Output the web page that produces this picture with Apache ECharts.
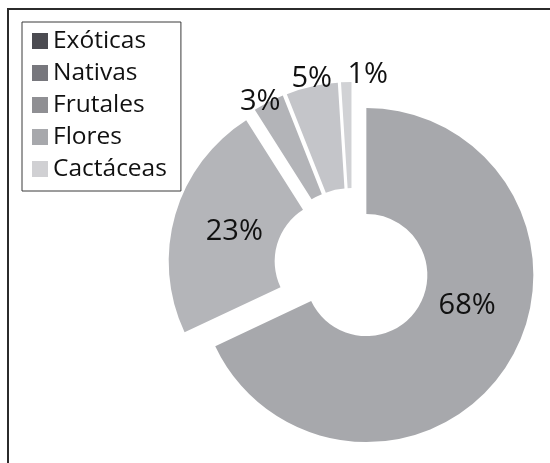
<!DOCTYPE html>
<html>
<head>
<meta charset="utf-8">
<script src="https://cdn.jsdelivr.net/npm/echarts@6/dist/echarts.min.js"></script>
<style>
html, body { margin: 0; padding: 0; background: #fff; }
#chart { width: 550px; height: 463px; }
</style>
</head>
<body>
<div id="chart"></div>
<script>
// Plant types and their share of the collection (%)
const categories = ['Exóticas', 'Nativas', 'Frutales', 'Flores', 'Cactáceas'];
const shares = [68, 23, 3, 5, 1];

// Fill of each ring slice, and the swatch shown in the legend
const sliceColors = ['#a7a8ac', '#b4b5b9', '#b3b4b8', '#c4c5c9', '#d1d2d5'];
const legendColors = ['#4b4b51', '#77777d', '#8f8f93', '#a7a8ac', '#d0d0d3'];

// Per-label shift (px) away from the slice's middle radius
const labelNudge = [[2, -32], [11, 3], [-31, -45], [-11, -56], [20, -57]];

const FONT = '"Open Sans", "Noto Sans", sans-serif';

const chart = echarts.init(document.getElementById('chart'), null, { renderer: 'canvas' });

chart.setOption({
  animation: false,
  backgroundColor: '#fff',
  graphic: [{
    type: 'rect',
    shape: { x: 8, y: 9, width: 600, height: 600 },
    style: { fill: 'none', stroke: '#2b2b2b', lineWidth: 2 },
    silent: true
  }],
  legend: {
    orient: 'vertical',
    left: 22,
    top: 22,
    icon: 'rect',
    itemWidth: 16,
    itemHeight: 16,
    itemGap: 7,
    padding: [6.5, 14, 9.5, 10],
    borderColor: '#3a3a3a',
    borderWidth: 1,
    selectedMode: false,
    textStyle: { fontFamily: FONT, fontSize: 24.5, color: '#111', lineHeight: 24 },
    data: categories.map((name, i) => ({ name, itemStyle: { color: legendColors[i] } }))
  },
  series: [{
    type: 'pie',
    center: [352, 266],
    radius: [61, 167],
    startAngle: 90,
    clockwise: true,
    selectedMode: 'multiple',
    selectedOffset: 17,
    avoidLabelOverlap: false,
    emphasis: { disabled: true },
    label: {
      show: true,
      position: 'inside',
      formatter: '{c}%',
      fontFamily: FONT,
      fontSize: 29,
      color: '#111'
    },
    labelLine: { show: false },
    labelLayout: function (p) {
      const n = labelNudge[p.dataIndex];
      return { dx: n[0], dy: n[1] };
    },
    data: categories.map((name, i) => ({
      name,
      value: shares[i],
      selected: true,
      itemStyle: { color: sliceColors[i] }
    }))
  }]
});
</script>
</body>
</html>
